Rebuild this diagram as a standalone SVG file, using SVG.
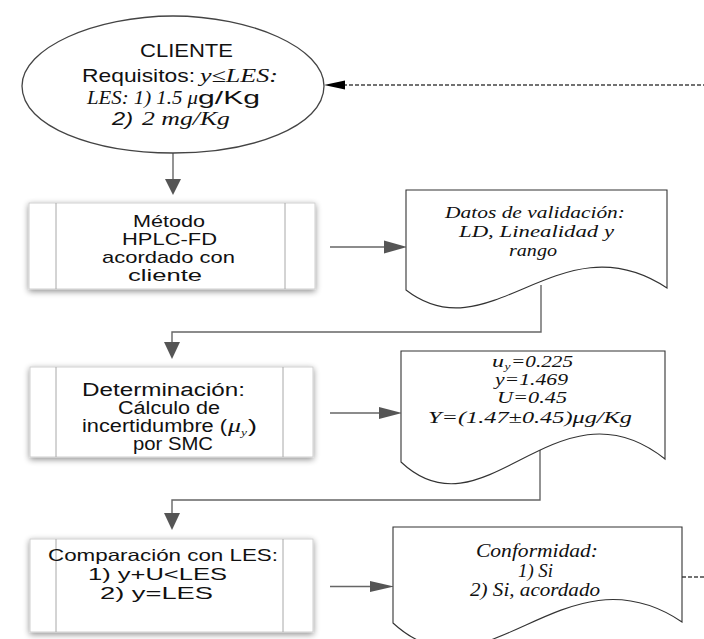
<svg xmlns="http://www.w3.org/2000/svg" width="704" height="639" viewBox="0 0 704 639">
<style>
.s{font-family:"Liberation Sans",Arial,sans-serif;fill:#111}
.si{font-family:"Liberation Sans",Arial,sans-serif;font-style:italic;fill:#111}
.i{font-family:"Liberation Serif","Times New Roman",serif;font-style:italic;fill:#111}
.box{fill:#fff;stroke:#cfcfcf;stroke-width:1}
.inner{stroke:#a8a8a8;stroke-width:1}
.doc{fill:#fff;stroke:#333;stroke-width:1.1}
.term{fill:#fff;stroke:#444;stroke-width:1.3}
.ln{fill:none;stroke:#666;stroke-width:1.4}
.dash{fill:none;stroke:#444;stroke-width:1.3;stroke-dasharray:4 2}
.ah{fill:#555}
</style>
<defs>
<filter id="sh" x="-10%" y="-15%" width="120%" height="140%">
<feGaussianBlur in="SourceAlpha" stdDeviation="3"/>
<feOffset dx="0" dy="2" result="b"/>
<feComponentTransfer><feFuncA type="linear" slope="0.45"/></feComponentTransfer>
<feMerge><feMergeNode/><feMergeNode in="SourceGraphic"/></feMerge>
</filter>
</defs>
<rect width="704" height="639" fill="#fff"/>

<g id="connectors">
<line class="ln" x1="173" y1="153" x2="173" y2="180"/>
<polygon class="ah" points="165,179 181,179 173,195"/>
<line class="ln" x1="330" y1="247" x2="385" y2="247"/>
<polygon class="ah" points="384,240.5 384,253.5 407,247"/>
<polyline class="ln" points="541,285 541,332 172,332 172,343"/>
<polygon class="ah" points="164,342 180,342 172,359"/>
<line class="ln" x1="330" y1="413" x2="380" y2="413"/>
<polygon class="ah" points="379,407 379,419 402,413"/>
<polyline class="ln" points="540,438 540,500 172,500 172,514"/>
<polygon class="ah" points="164,513 180,513 172,530"/>
<line class="ln" x1="330" y1="586.5" x2="371" y2="586.5"/>
<polygon class="ah" points="370,581 370,592 394,586.5"/>
<line class="dash" x1="682" y1="577" x2="704" y2="577"/>
<line class="dash" x1="343" y1="85" x2="704" y2="85"/>
<polygon fill="#000" points="324,85 345,80.5 345,89.5"/>
</g>

<g id="cliente">
<path class="term" d="M22,86 C22,48 95,16 173,16 C251,16 324,48 324,86 C324,127 251,153 173,153 C95,153 22,127 22,86 Z"/>
<text class="s" x="140" y="57" font-size="19" textLength="93" lengthAdjust="spacingAndGlyphs">CLIENTE</text>
<text class="s" x="82" y="82" font-size="19" textLength="113" lengthAdjust="spacingAndGlyphs">Requisitos:</text>
<text class="i" x="200" y="82" font-size="19" textLength="78" lengthAdjust="spacingAndGlyphs">y≤LES:</text>
<text class="i" x="87" y="104" font-size="19" textLength="111" lengthAdjust="spacingAndGlyphs">LES: 1) 1.5 μ</text>
<text class="s" x="198" y="104" font-size="19" textLength="62" lengthAdjust="spacingAndGlyphs">g/Kg</text>
<text class="si" x="112" y="125" font-size="19" textLength="21" lengthAdjust="spacingAndGlyphs">2)</text>
<text class="i" x="142" y="125" font-size="19" textLength="88" lengthAdjust="spacingAndGlyphs">2 mg/Kg</text>
</g>

<g id="metodo">
<rect class="box" x="29" y="203" width="286" height="86" filter="url(#sh)"/>
<line class="inner" x1="56" y1="203" x2="56" y2="289"/>
<line class="inner" x1="285" y1="203" x2="285" y2="289"/>
<text class="s" x="133" y="227" font-size="17" textLength="72" lengthAdjust="spacingAndGlyphs">Método</text>
<text class="s" x="122" y="245" font-size="17" textLength="95" lengthAdjust="spacingAndGlyphs">HPLC-FD</text>
<text class="s" x="102" y="263" font-size="17" textLength="133" lengthAdjust="spacingAndGlyphs">acordado con</text>
<text class="s" x="128" y="281" font-size="17" textLength="74" lengthAdjust="spacingAndGlyphs">cliente</text>
</g>

<g id="datos">
<path class="doc" d="M406,190 H667 V288 C560,217 490,355 406,290 Z"/>
<text class="i" x="445" y="218" font-size="16.5" textLength="180" lengthAdjust="spacingAndGlyphs">Datos de validación:</text>
<text class="i" x="459" y="237" font-size="16.5" textLength="155" lengthAdjust="spacingAndGlyphs">LD, Linealidad y</text>
<text class="i" x="509" y="256" font-size="16.5" textLength="48" lengthAdjust="spacingAndGlyphs">rango</text>
</g>

<g id="determinacion">
<rect class="box" x="30" y="367" width="283" height="90" filter="url(#sh)"/>
<line class="inner" x1="56" y1="367" x2="56" y2="457"/>
<line class="inner" x1="283" y1="367" x2="283" y2="457"/>
<text class="s" x="82" y="396" font-size="18" textLength="163" lengthAdjust="spacingAndGlyphs">Determinación:</text>
<text class="s" x="118" y="414" font-size="18" textLength="102" lengthAdjust="spacingAndGlyphs">Cálculo de</text>
<text class="s" x="82" y="432" font-size="18" textLength="145" lengthAdjust="spacingAndGlyphs">incertidumbre (</text>
<text class="i" x="228" y="432" font-size="18" textLength="13" lengthAdjust="spacingAndGlyphs">μ</text>
<text class="i" x="241" y="436" font-size="11" textLength="6" lengthAdjust="spacingAndGlyphs">y</text>
<text class="s" x="248" y="432" font-size="18" textLength="9" lengthAdjust="spacingAndGlyphs">)</text>
<text class="s" x="133" y="450" font-size="18" textLength="80" lengthAdjust="spacingAndGlyphs">por SMC</text>
</g>

<g id="resultados">
<path class="doc" d="M401,351 H665 V459 C557,373.5 485,541 401,462 Z"/>
<text class="i" x="492" y="367" font-size="17" textLength="12" lengthAdjust="spacingAndGlyphs">u</text>
<text class="i" x="504.5" y="370" font-size="9.5" textLength="6" lengthAdjust="spacingAndGlyphs">y</text>
<text class="i" x="511" y="367" font-size="17" textLength="62" lengthAdjust="spacingAndGlyphs">=0.225</text>
<text class="i" x="495" y="385" font-size="17" textLength="73" lengthAdjust="spacingAndGlyphs">y=1.469</text>
<text class="i" x="497" y="403" font-size="17" textLength="70" lengthAdjust="spacingAndGlyphs">U=0.45</text>
<text class="i" x="428" y="423" font-size="17" textLength="204" lengthAdjust="spacingAndGlyphs">Y=(1.47±0.45)μg/Kg</text>
</g>

<g id="comparacion">
<rect class="box" x="30" y="539" width="283" height="93" filter="url(#sh)"/>
<line class="inner" x1="56" y1="539" x2="56" y2="632"/>
<line class="inner" x1="283" y1="539" x2="283" y2="632"/>
<text class="s" x="48" y="561" font-size="16.5" textLength="230" lengthAdjust="spacingAndGlyphs">Comparación con LES:</text>
<text class="s" x="88" y="580" font-size="16.5" textLength="139" lengthAdjust="spacingAndGlyphs">1) y+U&lt;LES</text>
<text class="s" x="100" y="599" font-size="16.5" textLength="113" lengthAdjust="spacingAndGlyphs">2) y=LES</text>
</g>

<g id="conformidad">
<path class="doc" d="M393,527 H682 V622 C563,542 485,708 393,623 Z"/>
<text class="i" x="476" y="557" font-size="18" textLength="122" lengthAdjust="spacingAndGlyphs">Conformidad:</text>
<text class="i" x="518" y="577" font-size="18" textLength="35" lengthAdjust="spacingAndGlyphs">1) Si</text>
<text class="i" x="470" y="596" font-size="18" textLength="130" lengthAdjust="spacingAndGlyphs">2) Si, acordado</text>
</g>
</svg>
